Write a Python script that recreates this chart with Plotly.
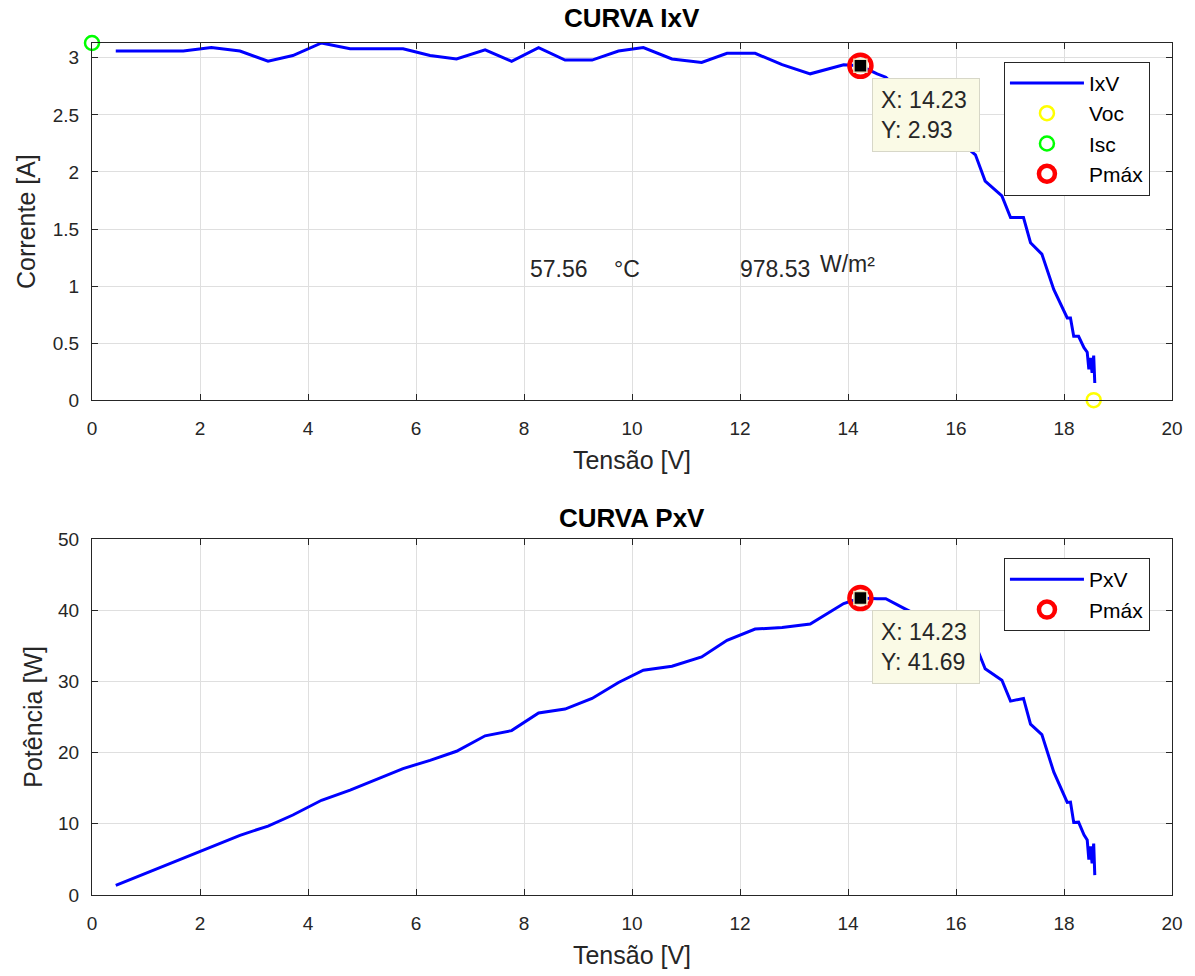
import plotly.graph_objects as go

# Measured I-V sweep of the PV module
tensao = [0.44, 1.69, 2.21, 2.74, 3.26, 3.72, 4.25, 4.78, 5.76, 6.26, 6.75, 7.28,
          7.77, 8.27, 8.76, 9.26, 9.75, 10.21, 10.74, 11.29, 11.76, 12.28, 12.78,
          13.30, 13.92, 14.23, 14.54, 14.70, 15.03, 16.36, 16.54, 16.85, 17.01,
          17.25, 17.38, 17.59, 17.81, 18.06, 18.12, 18.18, 18.27, 18.37, 18.43,
          18.46, 18.49, 18.52, 18.55, 18.57]
corrente = [3.06, 3.06, 3.09, 3.06, 2.97, 3.02, 3.13, 3.08, 3.08, 3.02, 2.99, 3.07,
            2.97, 3.09, 2.98, 2.98, 3.06, 3.09, 2.99, 2.96, 3.04, 3.04, 2.94,
            2.86, 2.94, 2.93, 2.86, 2.83, 2.68, 2.15, 1.92, 1.79, 1.60,
            1.60, 1.38, 1.28, 0.97, 0.72, 0.72, 0.56, 0.56, 0.46, 0.42,
            0.27, 0.37, 0.24, 0.39, 0.15]
potencia = [1.35, 5.17, 6.83, 8.38, 9.68, 11.23, 13.30, 14.72, 17.74, 18.91, 20.18, 22.35,
            23.08, 25.55, 26.10, 27.59, 29.84, 31.55, 32.11, 33.42, 35.75, 37.33, 37.57,
            38.04, 40.92, 41.69, 41.58, 41.60, 40.28, 35.17, 31.76, 30.16, 27.22,
            27.60, 23.98, 22.52, 17.28, 13.00, 13.05, 10.18, 10.23, 8.45, 7.74,
            4.98, 6.84, 4.44, 7.23, 2.79]

# Characteristic points
voc = (18.55, 0.0)
isc = (0.0, 3.13)
pmax_v, pmax_i, pmax_p = 14.23, 2.93, 41.69

# Ambient readings
temperatura = "57.56"
irradiancia = "978.53"

x_ticks = list(range(0, 21, 2))

FONT = "Liberation Sans, Arial, Helvetica, sans-serif"
AX = "rgb(38,38,38)"
GRID = "rgb(223,223,223)"
BLUE = "rgb(0,0,255)"

fig = go.Figure()

# ---- I x V ----
fig.add_trace(go.Scatter(x=tensao, y=corrente, mode="lines", name="IxV",
                         line=dict(color=BLUE, width=3), xaxis="x", yaxis="y",
                         legend="legend", legendgroup="a"))
fig.add_trace(go.Scatter(x=[voc[0]], y=[voc[1]], mode="markers", name="Voc",
                         marker=dict(symbol="circle-open", size=14, color="rgb(255,255,0)",
                                     line=dict(width=2.5, color="rgb(255,255,0)")),
                         cliponaxis=False, xaxis="x", yaxis="y",
                         legend="legend", legendgroup="b"))
fig.add_trace(go.Scatter(x=[isc[0]], y=[isc[1]], mode="markers", name="Isc",
                         marker=dict(symbol="circle-open", size=14, color="rgb(0,255,0)",
                                     line=dict(width=2.5, color="rgb(0,255,0)")),
                         cliponaxis=False, xaxis="x", yaxis="y",
                         legend="legend", legendgroup="c"))
fig.add_trace(go.Scatter(x=[pmax_v], y=[pmax_i], mode="markers", name="Pmáx",
                         marker=dict(symbol="circle-open", size=22, color="rgb(255,0,0)",
                                     line=dict(width=4.5, color="rgb(255,0,0)")),
                         cliponaxis=False, xaxis="x", yaxis="y",
                         legend="legend", legendgroup="d"))
fig.add_trace(go.Scatter(x=[pmax_v], y=[pmax_i], mode="markers", showlegend=False,
                         marker=dict(symbol="square", size=13, color="black",
                                     line=dict(width=1.5, color="rgb(235,225,190)")),
                         cliponaxis=False, xaxis="x", yaxis="y", hoverinfo="skip"))

# ---- P x V ----
fig.add_trace(go.Scatter(x=tensao, y=potencia, mode="lines", name="PxV",
                         line=dict(color=BLUE, width=3), xaxis="x2", yaxis="y2",
                         legend="legend2", legendgroup="e"))
fig.add_trace(go.Scatter(x=[pmax_v], y=[pmax_p], mode="markers", name="Pmáx",
                         marker=dict(symbol="circle-open", size=22, color="rgb(255,0,0)",
                                     line=dict(width=4.5, color="rgb(255,0,0)")),
                         cliponaxis=False, xaxis="x2", yaxis="y2",
                         legend="legend2", legendgroup="f"))
fig.add_trace(go.Scatter(x=[pmax_v], y=[pmax_p], mode="markers", showlegend=False,
                         marker=dict(symbol="square", size=13, color="black",
                                     line=dict(width=1.5, color="rgb(235,225,190)")),
                         cliponaxis=False, xaxis="x2", yaxis="y2", hoverinfo="skip"))

axis_common = dict(showline=True, linecolor=AX, linewidth=1, mirror="ticks",
                   ticks="inside", ticklen=6, tickcolor=AX, showgrid=True,
                   gridcolor=GRID, gridwidth=1, zeroline=False,
                   tickfont=dict(family=FONT, size=19, color=AX))

x_common = dict(axis_common, range=[0, 20], tickvals=x_ticks,
                ticklabelstandoff=11,
                title=dict(text="Tensão [V]", font=dict(family=FONT, size=25, color=AX),
                           standoff=13))

legend_common = dict(bgcolor="white", bordercolor=AX, borderwidth=1,
                     font=dict(family=FONT, size=21, color="black"),
                     xanchor="left", yanchor="top", itemwidth=74,
                     tracegroupgap=1, traceorder="normal")

datatip = dict(showarrow=False, xanchor="left", yanchor="top", align="left",
               bgcolor="rgb(250,250,230)", bordercolor="rgb(215,215,200)",
               borderwidth=1, borderpad=8, width=90,
               font=dict(family=FONT, size=23, color="rgb(38,38,38)"),
               xshift=12, yshift=-12)

fig.update_layout(
    width=1195, height=976, autosize=False,
    margin=dict(l=92, r=23, t=43, b=79),
    paper_bgcolor="white", plot_bgcolor="white",
    font=dict(family=FONT, color=AX),
    xaxis=dict(x_common, domain=[0, 1], anchor="y"),
    yaxis=dict(axis_common, domain=[0.5808, 1.0], range=[0, 3.13], dtick=0.5,
               anchor="x", ticklabelstandoff=8,
               title=dict(text="Corrente [A]", font=dict(family=FONT, size=25, color=AX),
                          standoff=10)),
    xaxis2=dict(x_common, domain=[0, 1], anchor="y2"),
    yaxis2=dict(axis_common, domain=[0.0, 0.418], range=[0, 50], dtick=10,
                anchor="x2", ticklabelstandoff=8,
                title=dict(text="Potência [W]", font=dict(family=FONT, size=25, color=AX),
                           standoff=8)),
    legend=dict(legend_common, x=0.8444, y=0.978),
    legend2=dict(legend_common, x=0.8444, y=0.3954),
    showlegend=True,
    annotations=[
        dict(text="<b>CURVA IxV</b>", xref="paper", yref="paper", x=0.5, y=1.0,
             yshift=8, xanchor="center", yanchor="bottom", showarrow=False,
             font=dict(family=FONT, size=26, color="black")),
        dict(text="<b>CURVA PxV</b>", xref="paper", yref="paper", x=0.5, y=0.418,
             yshift=4, xanchor="center", yanchor="bottom", showarrow=False,
             font=dict(family=FONT, size=26, color="black")),
        dict(datatip, xref="x", yref="y", x=pmax_v, y=pmax_i,
             text=f"X: {pmax_v:.2f}<br>Y: {pmax_i:.2f}"),
        dict(datatip, xref="x2", yref="y2", x=pmax_v, y=pmax_p,
             text=f"X: {pmax_v:.2f}<br>Y: {pmax_p:.2f}"),
        dict(text=temperatura, xref="x", yref="y", x=8.08, y=1.15, xanchor="left",
             showarrow=False, font=dict(family=FONT, size=23, color=AX)),
        dict(text="°C", xref="x", yref="y", x=9.63, y=1.15, xanchor="left",
             showarrow=False, font=dict(family=FONT, size=23, color=AX)),
        dict(text=irradiancia, xref="x", yref="y", x=11.97, y=1.15, xanchor="left",
             showarrow=False, font=dict(family=FONT, size=23, color=AX)),
        dict(text="W/m²", xref="x", yref="y", x=13.45, y=1.19, xanchor="left",
             showarrow=False, font=dict(family=FONT, size=23, color=AX)),
    ],
)

fig.write_html("out.html")
